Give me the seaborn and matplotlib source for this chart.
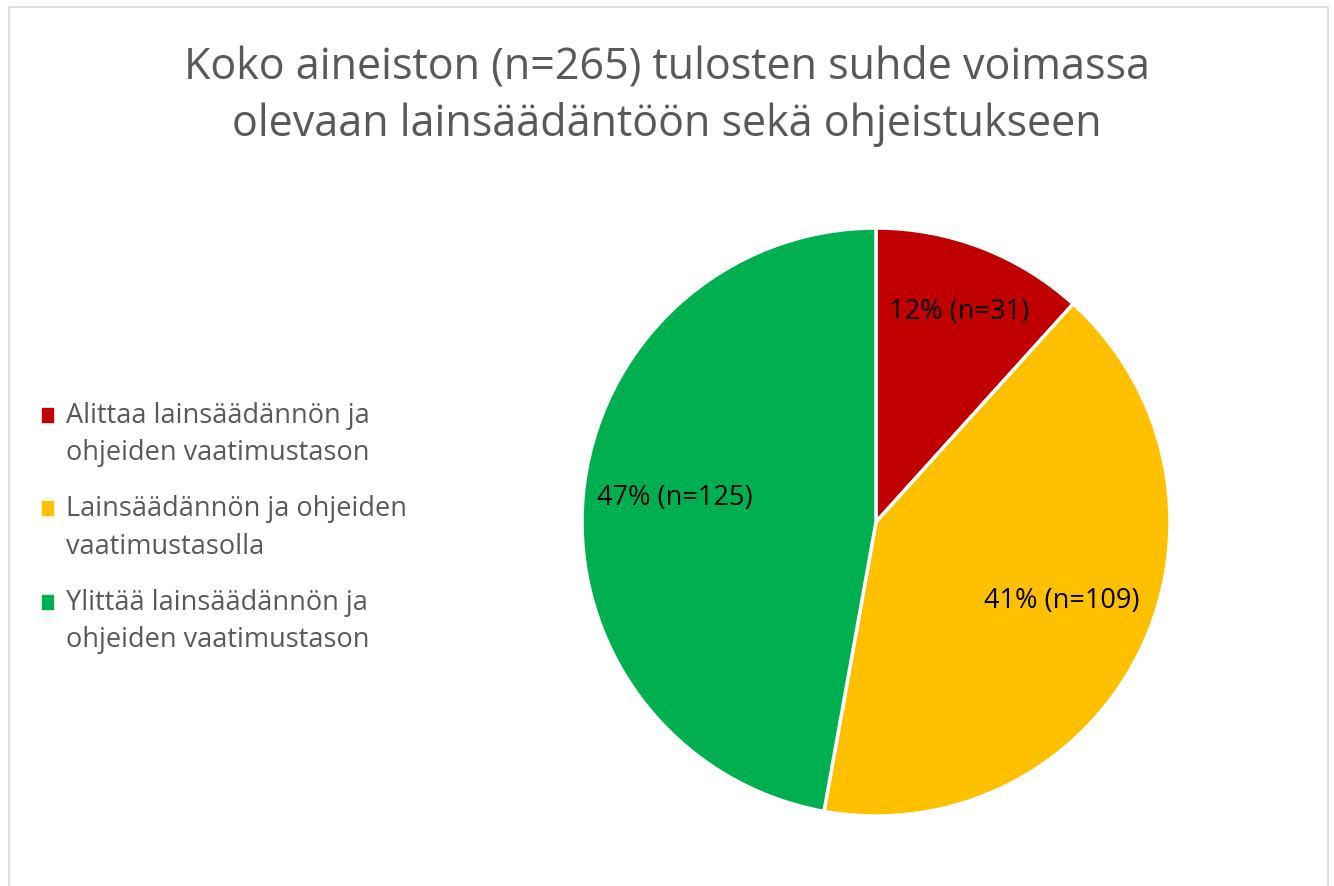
import numpy as np
import matplotlib
matplotlib.use("Agg")
import matplotlib.pyplot as plt
import seaborn as sns
from matplotlib.patches import Patch, Rectangle
from matplotlib.legend_handler import HandlerPatch

# data
categories = ["Alittaa lainsäädännön ja\nohjeiden vaatimustason",
              "Lainsäädännön ja ohjeiden\nvaatimustasolla",
              "Ylittää lainsäädännön ja\nohjeiden vaatimustason"]
counts = [31, 109, 125]
percent_labels = ["12% (n=31)", "41% (n=109)", "47% (n=125)"]
colors = ["#C00000", "#FFC000", "#00B050"]

sns.set_theme(style="white")
plt.rcParams['font.family'] = ['Open Sans', 'DejaVu Sans']

W, H = 1334, 887
fig = plt.figure(figsize=(W / 100, H / 100), dpi=100)

# chart area border
fig.patches.append(Rectangle((9 / W, -0.05), (1328 - 9) / W, 1.05 - 8 / H,
                             transform=fig.transFigure, fill=False,
                             edgecolor="#D9D9D9", linewidth=1.2))

cx, cy, r = 876, 523, 294
ax = fig.add_axes([(cx - r) / W, 1 - (cy + r) / H, 2 * r / W, 2 * r / H])
wedges, _ = ax.pie(counts, colors=colors, startangle=90, counterclock=False,
                   wedgeprops=dict(edgecolor="white", linewidth=2.5))
ax.set_xlim(-1, 1)
ax.set_ylim(-1, 1)

# data labels, placed roughly like excel's "best fit"
dist = [0.77, 0.685, 0.69]
offs = [-0.5, 3.5, -2.0]
for w, lab, d, o in zip(wedges, percent_labels, dist, offs):
    ang = np.deg2rad((w.theta1 + w.theta2) / 2 + o)
    ax.text(d * np.cos(ang), d * np.sin(ang), lab, ha="center", va="center",
            fontsize=19.5, color="black")

fig.text(0.5, 1 - 96 / H, "Koko aineiston (n=265) tulosten suhde voimassa\nolevaan lainsäädäntöön sekä ohjeistukseen",
         ha="center", va="center", fontsize=31, color="#595959", linespacing=1.38)


# legend square sits next to the first line of a two-line label
def square_first_line(legend, orig_handle, xdescent, ydescent, width, height, fontsize):
    return Rectangle((-xdescent, -ydescent + 14.0), width, height)


handles = [Patch(facecolor=c, edgecolor=c) for c in colors]
leg = fig.legend(handles, categories, loc="upper left",
                 bbox_to_anchor=(28 / W, 1 - 388 / H), frameon=False,
                 fontsize=19.5, handlelength=0.42, handleheight=0.42,
                 handletextpad=0.5, labelspacing=1.02, borderpad=0,
                 handler_map={Patch: HandlerPatch(patch_func=square_first_line)})
for t in leg.get_texts():
    t.set_color("#595959")
    t.set_linespacing(1.47)

fig.savefig("out.png", dpi=100)
